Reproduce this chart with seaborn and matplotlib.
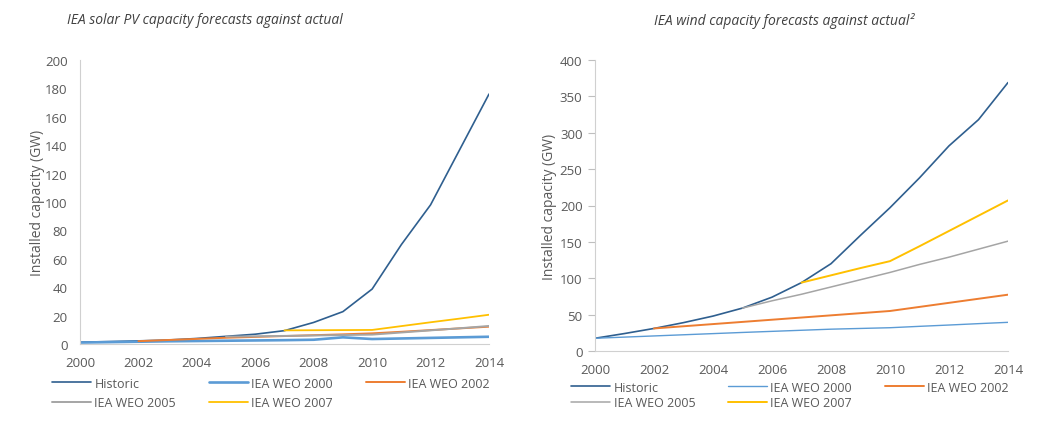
import numpy as np
import pandas as pd
import matplotlib
matplotlib.use('Agg')
import matplotlib.pyplot as plt
import seaborn as sns

# ---- data ----
years_all = list(range(2000, 2015))

# solar PV (GW)
pv_historic = [1.3, 1.7, 2.2, 2.8, 3.9, 5.4, 6.9, 9.4, 15.2, 22.8, 38.7, 70, 98, 137, 176]
pv_weo2000_years = years_all
pv_weo2000 = [1.0, 1.3, 1.6, 1.9, 2.1, 2.3, 2.5, 2.7, 3.0, 4.7, 3.5, 3.9, 4.3, 4.7, 5.1]
pv_weo2002_years = list(range(2002, 2015))
pv_weo2002 = [2.0, 2.8, 3.6, 4.4, 5.0, 5.6, 6.2, 6.8, 7.5, 8.6, 9.8, 11.0, 12.2]
pv_weo2005_years = list(range(2005, 2015))
pv_weo2005 = [5.2, 5.4, 5.7, 6.0, 6.3, 6.6, 8.1, 9.6, 11.1, 12.7]
pv_weo2007_years = list(range(2007, 2015))
pv_weo2007 = [9.6, 9.7, 9.8, 9.9, 12.6, 15.3, 17.9, 20.6]

# wind (GW)
wind_historic = [17.5, 24, 31, 39, 48, 59, 74, 94, 120, 159, 197, 238, 282, 318, 369]
wind_weo2000_years = years_all
wind_weo2000 = [17.5, 19.1, 20.7, 22.3, 23.9, 25.5, 27.0, 28.5, 30.0, 31.0, 32.0, 33.9, 35.7, 37.6, 39.4]
wind_weo2002_years = list(range(2002, 2015))
wind_weo2002 = [31, 34, 37, 40, 43, 46, 49, 52, 55, 60.6, 66.2, 71.8, 77.4]
wind_weo2005_years = list(range(2005, 2015))
wind_weo2005 = [59, 69, 78, 88, 98, 108, 119, 129, 140, 151]
wind_weo2007_years = list(range(2007, 2015))
wind_weo2007 = [94, 104, 114, 123.5, 144, 165, 186, 207]

series_names = ['Historic', 'IEA WEO 2000', 'IEA WEO 2002', 'IEA WEO 2005', 'IEA WEO 2007']
x_ticks = [2000, 2002, 2004, 2006, 2008, 2010, 2012, 2014]

COLORS = {
    'Historic': '#2f5f8f',
    'IEA WEO 2000': '#5b9bd5',
    'IEA WEO 2002': '#ed7d31',
    'IEA WEO 2005': '#a5a5a5',
    'IEA WEO 2007': '#ffc000',
}
TEXT = '#595959'

sns.set_style('white')
plt.rcParams['font.family'] = ['Open Sans', 'DejaVu Sans']

fig = plt.figure(figsize=(10.42, 4.35), dpi=100)
W, H = 1042, 435


def axes_px(x0, x1, ytop, ybot):
    return fig.add_axes([x0 / W, (H - ybot) / H, (x1 - x0) / W, (ybot - ytop) / H])


def draw_panel(ax, data, widths, ymax, ystep, yticks_marks, ylabelpad,
               leg_x0, leg_x1, leg_top, row_gap):
    for name in series_names:
        yrs, vals = data[name]
        df = pd.DataFrame({'year': yrs, 'value': vals})
        sns.lineplot(data=df, x='year', y='value', ax=ax, color=COLORS[name],
                     linewidth=widths[name], label=name)
    ax.set_xlim(2000, 2014)
    ax.set_ylim(0, ymax)
    ax.set_xticks(x_ticks)
    ax.set_yticks(np.arange(0, ymax + 1, ystep))
    ax.set_xlabel('')
    ax.set_ylabel('Installed capacity (GW)', fontsize=10, color=TEXT, labelpad=ylabelpad)
    for s in ['top', 'right']:
        ax.spines[s].set_visible(False)
    ax.spines['left'].set_color('#d0d0d0')
    ax.spines['bottom'].set_color('#d0d0d0')
    ax.tick_params(axis='x', length=0, pad=9, labelsize=9.5, labelcolor=TEXT)
    if yticks_marks:
        ax.tick_params(axis='y', length=5, width=0.8, color='#bfbfbf', pad=4,
                       labelsize=9.5, labelcolor=TEXT, left=True)
    else:
        ax.tick_params(axis='y', length=0, pad=9, labelsize=9.5, labelcolor=TEXT)

    # legend below, three columns (column-major ordering)
    handles, labels = ax.get_legend_handles_labels()
    lookup = dict(zip(labels, handles))
    order = ['Historic', 'IEA WEO 2005', 'IEA WEO 2000', 'IEA WEO 2007', 'IEA WEO 2002']
    ax.legend([lookup[o] for o in order], order, ncol=3, frameon=False,
              fontsize=9, labelcolor=TEXT, handlelength=3.1, handletextpad=0.3,
              borderpad=0, borderaxespad=0, labelspacing=row_gap, mode='expand',
              loc='upper left',
              bbox_to_anchor=(leg_x0 / W, 1 - leg_top / H, (leg_x1 - leg_x0) / W, 0.001),
              bbox_transform=fig.transFigure)


# left: solar PV
ax1 = axes_px(80, 489, 61, 345)
pv_data = {
    'Historic': (years_all, pv_historic),
    'IEA WEO 2000': (pv_weo2000_years, pv_weo2000),
    'IEA WEO 2002': (pv_weo2002_years, pv_weo2002),
    'IEA WEO 2005': (pv_weo2005_years, pv_weo2005),
    'IEA WEO 2007': (pv_weo2007_years, pv_weo2007),
}
draw_panel(ax1, pv_data,
           {'Historic': 1.2, 'IEA WEO 2000': 1.9, 'IEA WEO 2002': 1.4,
            'IEA WEO 2005': 1.4, 'IEA WEO 2007': 1.3},
           200, 20, False, 0, 52, 490, 378, 0.55)

# right: wind
ax2 = axes_px(595, 1008, 61, 352)
wind_data = {
    'Historic': (years_all, wind_historic),
    'IEA WEO 2000': (wind_weo2000_years, wind_weo2000),
    'IEA WEO 2002': (wind_weo2002_years, wind_weo2002),
    'IEA WEO 2005': (wind_weo2005_years, wind_weo2005),
    'IEA WEO 2007': (wind_weo2007_years, wind_weo2007),
}
draw_panel(ax2, wind_data,
           {'Historic': 1.2, 'IEA WEO 2000': 1.0, 'IEA WEO 2002': 1.4,
            'IEA WEO 2005': 1.1, 'IEA WEO 2007': 1.4},
           400, 50, True, 2, 571, 1009, 382, 0.2)

fig.text(205 / W, 1 - 21 / H, 'IEA solar PV capacity forecasts against actual',
         ha='center', va='center', style='italic', fontsize=10, color='#404040')
fig.text(784 / W, 1 - 21 / H, 'IEA wind capacity forecasts against actual²',
         ha='center', va='center', style='italic', fontsize=10, color='#404040')

plt.savefig('out.png', dpi=100)
plt.close()
